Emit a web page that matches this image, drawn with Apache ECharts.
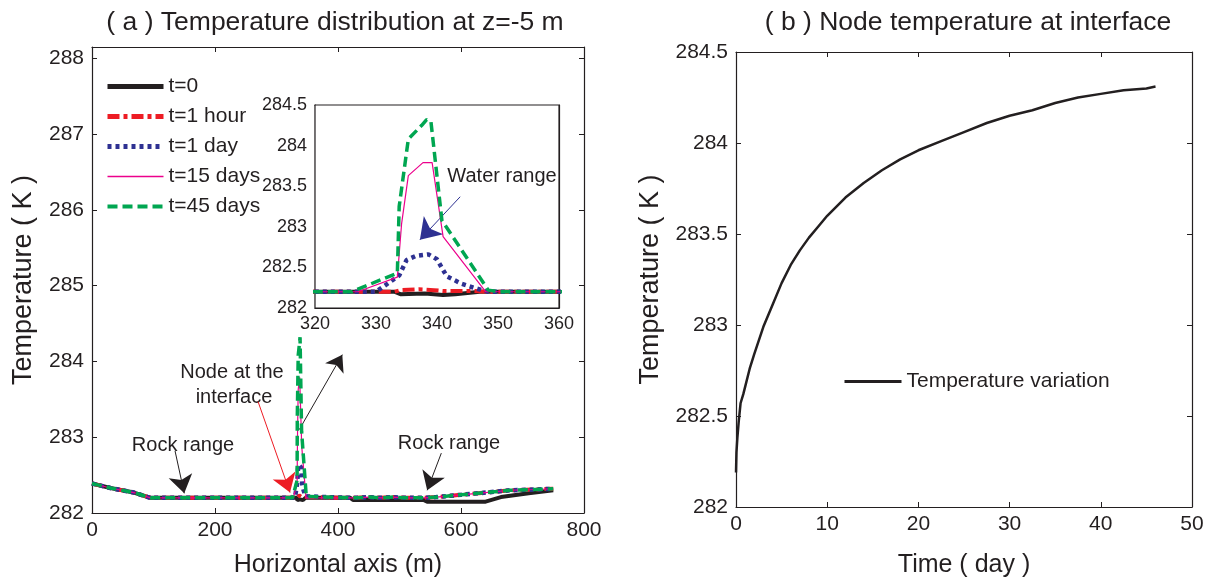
<!DOCTYPE html>
<html>
<head>
<meta charset="utf-8">
<script src="https://cdn.jsdelivr.net/npm/echarts@6/dist/echarts.min.js"></script>
<style>
html,body{margin:0;padding:0;background:#fff;}
#chart{width:1231px;height:583px;}
</style>
</head>
<body>
<div id="chart"></div>
<script>
// ---------- DATA ----------
var seriesNames = ['t=0', 't=1 hour', 't=1 day', 't=15 days', 't=45 days'];

// (a) horizontal profile at z=-5 m : [x (m), T (K)]
var dataT0 = [[0,282.39],[30,282.33],[68,282.27],[95,282.2],[200,282.2],[300,282.2],[333,282.2],[334,282.17],[338,282.18],[341,282.16],[343,282.17],[347,282.2],[420,282.2],[425,282.17],[540,282.17],[545,282.15],[640,282.15],[665,282.21],[710,282.26],[750,282.3]];
var dataHour = [[0,282.39],[30,282.33],[68,282.27],[95,282.2],[200,282.2],[300,282.2],[333,282.2],[334,282.22],[337,282.23],[339.5,282.22],[341,282.21],[346,282.21],[348,282.2],[420,282.2],[430,282.2],[450,282.21],[470,282.2],[490,282.21],[510,282.2],[540,282.2],[560,282.21],[600,282.24],[640,282.27],[680,282.3],[720,282.31],[750,282.32]];
var dataDay = [[0,282.39],[30,282.33],[68,282.27],[95,282.2],[200,282.2],[300,282.2],[330,282.2],[333.8,282.4],[335,282.59],[336.5,282.64],[338.6,282.66],[340,282.6],[341.6,282.39],[344,282.3],[347.3,282.22],[348.5,282.2],[420,282.2],[430,282.2],[450,282.21],[470,282.2],[490,282.21],[510,282.2],[540,282.2],[560,282.21],[600,282.24],[640,282.27],[680,282.3],[720,282.31],[750,282.32]];
var data15 = [[0,282.39],[30,282.33],[68,282.27],[95,282.2],[200,282.2],[300,282.2],[327,282.2],[333.5,282.38],[334.2,283.04],[335.3,283.63],[337.7,283.79],[339.2,283.79],[341,282.88],[348,282.2],[420,282.2],[430,282.2],[450,282.21],[470,282.2],[490,282.21],[510,282.2],[540,282.2],[560,282.21],[600,282.24],[640,282.27],[680,282.3],[720,282.31],[750,282.32]];
var data45 = [[0,282.39],[30,282.33],[68,282.27],[95,282.2],[200,282.2],[300,282.2],[326,282.2],[333.5,282.43],[333.8,283.25],[335.3,284.08],[337.5,284.25],[338.3,284.32],[339,284.3],[340.8,283.08],[348.4,282.22],[350,282.2],[420,282.2],[430,282.2],[450,282.21],[470,282.2],[490,282.21],[510,282.2],[540,282.2],[560,282.21],[600,282.24],[640,282.27],[680,282.3],[720,282.31],[750,282.32]];

// (b) node temperature at interface
var timeDays = [0,0.05,0.15,0.3,0.5,0.8,1.0,1.5,2,3,4,5,6,7,8,9,10,12,14,16,18,20,22.5,25,27.5,30,32.5,35,37.5,40,42.5,45,46];
var nodeTemps = [282.19,282.3,282.38,282.47,282.57,282.62,282.66,282.76,282.84,282.99,283.11,283.23,283.33,283.41,283.48,283.54,283.6,283.7,283.78,283.85,283.91,283.96,284.01,284.06,284.11,284.15,284.18,284.22,284.25,284.27,284.29,284.3,284.31];

var titleA = '( a ) Temperature distribution at z=-5 m';
var titleB = '( b ) Node temperature at interface';

// ---------- STYLE ----------
var FONT = 'Liberation Sans, Arial, Helvetica, sans-serif';
var INK = '#231f20';
var colors = ['#231f20', '#ed1c24', '#2e3192', '#ec008c', '#00a651'];
var lineStyles = [
  {width: 4, type: 'solid'},
  {width: 4, type: [12, 4, 4, 4]},
  {width: 4.5, type: [4, 4]},
  {width: 1.2, type: 'solid'},
  {width: 3.5, type: [10, 5]}
];
var legendWidths = [5, 5, 5, 1.5, 4];
var allData = [dataT0, dataHour, dataDay, data15, data45];

function axisX(grid, pos, min, max, interval, fs, showLabel, name, nameGap, tickLen) {
  return {
    type: 'value', gridIndex: grid, position: pos, min: min, max: max, interval: interval,
    axisLine: {show: true, onZero: false, lineStyle: {color: INK, width: 1.2}},
    axisTick: {show: true, inside: true, length: tickLen, lineStyle: {color: INK, width: 1}},
    axisLabel: {show: showLabel, fontSize: fs, color: INK, fontFamily: FONT, margin: 7},
    splitLine: {show: false},
    name: name || '', nameLocation: 'middle', nameGap: nameGap || 0,
    nameTextStyle: {fontSize: 25, color: INK, fontFamily: FONT}
  };
}
function axisY(grid, pos, min, max, interval, fs, showLabel, name, nameGap, tickLen, fmt) {
  var a = {
    type: 'value', gridIndex: grid, position: pos, min: min, max: max, interval: interval,
    axisLine: {show: true, onZero: false, lineStyle: {color: INK, width: 1.2}},
    axisTick: {show: true, inside: true, length: tickLen, lineStyle: {color: INK, width: 1}},
    axisLabel: {show: showLabel, fontSize: fs, color: INK, fontFamily: FONT, margin: 8},
    splitLine: {show: false},
    name: name || '', nameLocation: 'middle', nameGap: nameGap || 0,
    nameTextStyle: {fontSize: 27, color: INK, fontFamily: FONT}
  };
  if (fmt) a.axisLabel.formatter = fmt;
  return a;
}
var intFmt = function (v) { return Math.abs(v - Math.round(v)) < 1e-6 ? String(Math.round(v)) : ''; };

var series = [];
// main plot series
for (var i = 0; i < 5; i++) {
  series.push({
    name: seriesNames[i], type: 'line', xAxisIndex: 0, yAxisIndex: 0,
    data: allData[i], showSymbol: false, symbol: 'none', z: 2 + i,
    lineStyle: {color: colors[i], width: lineStyles[i].width, type: lineStyles[i].type, cap: 'butt'},
    itemStyle: {color: colors[i]}
  });
}
// inset series
for (var j = 0; j < 5; j++) {
  series.push({
    name: seriesNames[j], type: 'line', xAxisIndex: 2, yAxisIndex: 2,
    data: allData[j], showSymbol: false, symbol: 'none', z: 2 + j, clip: true,
    lineStyle: {color: colors[j], width: lineStyles[j].width, type: lineStyles[j].type, cap: 'butt'},
    itemStyle: {color: colors[j]}
  });
}
// annotation arrows (data coordinates)
function arrow(p0, p1, color, size) {
  return [
    {coord: p0, symbol: 'none', lineStyle: {color: color, width: 1, type: 'solid'}},
    {coord: p1, symbol: 'arrow', symbolSize: size}
  ];
}
series[0].markLine = {
  silent: true, animation: false, label: {show: false},
  symbol: ['none', 'arrow'], symbolSize: [1, 18],
  lineStyle: {color: INK, width: 1, type: 'solid'},
  data: [
    arrow([135, 282.82], [150, 282.26], INK, 18),
    arrow([568, 282.79], [545, 282.3], INK, 18),
    arrow([270, 283.47], [322, 282.27], '#ed1c24', 18),
    arrow([337, 283.1], [407, 284.09], INK, 16)
  ]
};
series[5].markLine = {
  silent: true, animation: false, label: {show: false},
  symbol: ['none', 'arrow'], symbolSize: [1, 20],
  lineStyle: {color: '#2e3192', width: 1, type: 'solid'},
  data: [arrow([343.8, 283.37], [337.2, 282.84], '#2e3192', 20)]
};
// (b) series
var nodeData = timeDays.map(function (t, k) { return [t, nodeTemps[k]]; });
series.push({
  name: 'Temperature variation', type: 'line', xAxisIndex: 4, yAxisIndex: 4,
  data: nodeData, showSymbol: false, symbol: 'none', smooth: false,
  lineStyle: {color: INK, width: 2.5}, itemStyle: {color: INK}
});

var legendItems = seriesNames.map(function (n, k) {
  return {name: n, lineStyle: {width: legendWidths[k]}};
});

var option = {
  animation: false,
  backgroundColor: '#fff',
  title: [
    {text: titleA, left: 330, top: 4, textAlign: 'center',
     textStyle: {fontSize: 26.5, fontWeight: 'normal', color: INK, fontFamily: FONT}},
    {text: titleB, left: 963, top: 4, textAlign: 'center',
     textStyle: {fontSize: 26.5, fontWeight: 'normal', color: INK, fontFamily: FONT}}
  ],
  grid: [
    {left: 92, top: 47, width: 492, height: 474, show: false},
    {left: 315, top: 105, width: 244, height: 203, show: true, backgroundColor: '#fff', borderWidth: 1.2, borderColor: INK, z: 1},
    {left: 736, top: 52, width: 456, height: 470, show: false}
  ],
  xAxis: [
    axisX(0, 'bottom', 0, 800, 200, 21, true, 'Horizontal axis (m)', 40, 5),
    axisX(0, 'top', 0, 800, 200, 21, false, '', 0, 5),
    axisX(1, 'bottom', 320, 360, 10, 18, true, '', 0, 3),
    axisX(1, 'top', 320, 360, 10, 18, false, '', 0, 3),
    axisX(2, 'bottom', 0, 50, 10, 21, true, 'Time ( day )', 46, 5),
    axisX(2, 'top', 0, 50, 10, 21, false, '', 0, 5)
  ],
  yAxis: [
    axisY(0, 'left', 282, 288.15, 1, 21, true, 'Temperature ( K )', 55, 5, intFmt),
    axisY(0, 'right', 282, 288.15, 1, 21, false, '', 0, 5),
    axisY(1, 'left', 282, 284.5, 0.5, 18, true, '', 0, 3),
    axisY(1, 'right', 282, 284.5, 0.5, 18, false, '', 0, 3),
    axisY(2, 'left', 282, 284.5, 0.5, 21, true, 'Temperature ( K )', 72, 5),
    axisY(2, 'right', 282, 284.5, 0.5, 21, false, '', 0, 5)
  ],
  legend: [
    {data: legendItems, orient: 'vertical', left: 105, top: 76, padding: 0, itemWidth: 56, itemHeight: 2, itemGap: 9,
     itemStyle: {opacity: 0},
     textStyle: {fontSize: 21, color: INK, fontFamily: FONT}, selectedMode: false},
    {data: [{name: 'Temperature variation', lineStyle: {width: 3}}], orient: 'vertical', left: 843, top: 371, padding: 0, itemWidth: 57, itemHeight: 2,
     itemStyle: {opacity: 0},
     textStyle: {fontSize: 21, color: INK, fontFamily: FONT}, selectedMode: false}
  ],
  graphic: [
    {type: 'text', x: 232, y: 372, style: {text: 'Node at the', font: '20px ' + FONT, fill: INK, align: 'center', verticalAlign: 'middle'}},
    {type: 'text', x: 234, y: 397, style: {text: 'interface', font: '20px ' + FONT, fill: INK, align: 'center', verticalAlign: 'middle'}},
    {type: 'text', x: 183, y: 445, style: {text: 'Rock range', font: '20px ' + FONT, fill: INK, align: 'center', verticalAlign: 'middle'}},
    {type: 'text', x: 449, y: 443, style: {text: 'Rock range', font: '20px ' + FONT, fill: INK, align: 'center', verticalAlign: 'middle'}},
    {type: 'text', x: 502, y: 176, z: 100, style: {text: 'Water range', font: '20px ' + FONT, fill: INK, align: 'center', verticalAlign: 'middle'}}
  ],
  series: series
};

var chart = echarts.init(document.getElementById('chart'), null, {renderer: 'canvas'});
chart.setOption(option);
</script>
</body>
</html>
